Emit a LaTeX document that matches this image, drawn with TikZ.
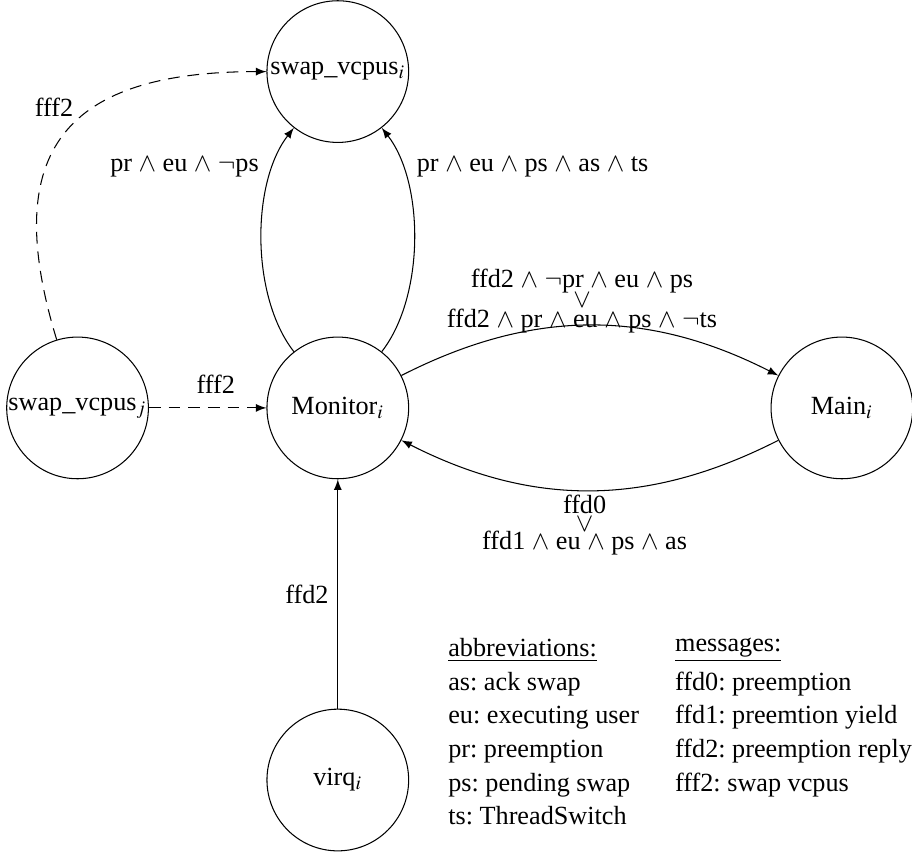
\documentclass[tikz,border=0pt]{standalone}
\usepackage{mathptmx}
\usepackage{fontspec}
\setmainfont{Liberation Serif}
\usetikzlibrary{arrows}
\frenchspacing

\begin{document}
\begin{tikzpicture}[>=latex,
    state/.style={circle, draw, minimum size=1.9cm, inner sep=0pt},
    msgedge/.style={->, dash pattern=on 4.5pt off 3pt}]
    \useasboundingbox (-4.53,-5.95) rectangle (7.70,5.47);

    % Draw nodes
    \node[state] (mon) at (0,0) {Monitor$_i$};
    \node[state] (swapi) at (0,4.51) {swap\_vcpus$_i$};
    \node[state] (swapj) at (-3.49,0) {swap\_vcpus$_j$};
    \node[state] (main) at (6.76,0) {Main$_i$};
    \node[state] (virq) at (0,-4.99) {virq$_i$};

    % Draw connections
    \draw[->] (mon) to[bend left=38, looseness=0.8] node[pos=0.8, left=2pt] {pr $\wedge$ eu $\wedge$ $\neg$ps} (swapi);
    \draw[->] (mon) to[bend right=38, looseness=0.8] node[pos=0.8, right=2pt] {pr $\wedge$ eu $\wedge$ ps $\wedge$ as $\wedge$ ts} (swapi);
    \draw[->] (mon) to[bend left=27] node[midway, above, inner sep=0pt, yshift=-3pt, xshift=-3pt, align=center]
        {ffd2 $\wedge$ $\neg$pr $\wedge$ eu $\wedge$ ps\\[-4.5pt]$\vee$\\[-4.5pt]ffd2 $\wedge$ pr $\wedge$ eu $\wedge$ ps $\wedge$ $\neg$ts} (main);
    \draw[->] (main) to[bend left=27] node[midway, below, inner sep=1.5pt, xshift=-2pt, align=center]
        {ffd0\\[-5pt]$\vee$\\[-5pt]ffd1 $\wedge$ eu $\wedge$ ps $\wedge$ as} (mon);
    \draw[msgedge] (swapj) -- node[pos=0.57, above=2pt] {fff2} (mon);
    \draw[msgedge] (swapj) to[out=107, in=180, looseness=1.5] node[pos=0.62, left=5pt] {fff2} (swapi);
    \draw[->] (virq) -- node[midway, left] {ffd2} (mon);

    % Legend
    \node[anchor=north west, inner sep=0pt] (legend) at (1.475,-3.01) {%
        \renewcommand{\arraystretch}{1.07}%
        \begin{tabular}{@{}l@{\hspace{13.8pt}}l@{}}
            \underline{abbreviations:} & \raisebox{2pt}{\underline{messages:}}\\
            as: ack swap & ffd0: preemption\\
            eu: executing user & ffd1: preemtion yield\\
            pr: preemption & ffd2: preemption reply\\
            ps: pending swap & fff2: swap vcpus\\
            ts: ThreadSwitch &
        \end{tabular}};
\end{tikzpicture}
\end{document}
